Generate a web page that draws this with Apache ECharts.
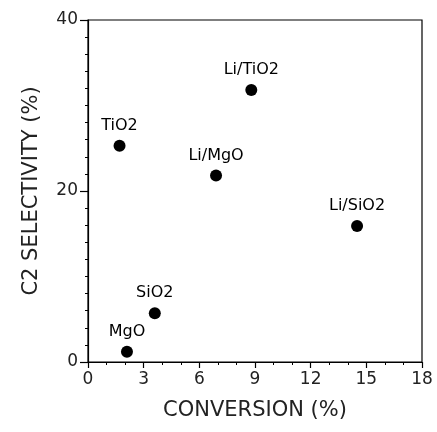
<!DOCTYPE html>
<html>
<head>
<meta charset="utf-8">
<script src="https://cdn.jsdelivr.net/npm/echarts@6/dist/echarts.min.js"></script>
<style>
  html, body { margin: 0; padding: 0; background: #fff; }
  #chart { width: 437px; height: 432px; }
</style>
</head>
<body>
<div id="chart"></div>
<script>
// catalysts and their measured values
const catalysts = ["MgO", "SiO2", "TiO2", "Li/MgO", "Li/TiO2", "Li/SiO2"];
const conversion = [2.1, 3.6, 1.7, 6.9, 8.8, 14.5];
const selectivity = [1.2, 5.7, 25.3, 21.8, 31.8, 15.9];

const xTicks = [0, 3, 6, 9, 12, 15, 18];
const yTicks = [0, 20, 40];

const FONT = "DejaVu Sans";

const chart = echarts.init(document.getElementById("chart"), null, { renderer: "canvas" });

const points = catalysts.map((name, i) => ({
    name: name,
    value: [conversion[i], selectivity[i]]
}));

const option = {
    backgroundColor: "#fff",
    animation: false,
    grid: {
        left: 88, right: 15, top: 20, bottom: 70,
        show: true, borderColor: "#000", borderWidth: 1.2, backgroundColor: "transparent"
    },
    xAxis: {
        type: "value",
        min: xTicks[0],
        max: xTicks[xTicks.length - 1],
        interval: 3,
        name: "CONVERSION (%)",
        nameLocation: "middle",
        nameGap: 38,
        nameTextStyle: { fontFamily: FONT, fontSize: 21, color: "#222" },
        axisLine: { lineStyle: { color: "#000", width: 1.2 } },
        axisTick: { show: true, inside: false, length: 6, lineStyle: { color: "#000", width: 1.2 } },
        minorTick: { show: true, splitNumber: 3, length: 3, lineStyle: { color: "#000", width: 1 } },
        splitLine: { show: false },
        axisLabel: {
            fontFamily: FONT, fontSize: 17, color: "#222", margin: 9,
            formatter: v => xTicks.includes(v) ? String(v) : ""
        }
    },
    yAxis: {
        type: "value",
        min: yTicks[0],
        max: yTicks[yTicks.length - 1],
        interval: 20,
        name: "C2 SELECTIVITY (%)",
        nameLocation: "middle",
        nameGap: 46,
        nameTextStyle: { fontFamily: FONT, fontSize: 21, color: "#222" },
        axisLine: { lineStyle: { color: "#000", width: 1.2 } },
        axisTick: { show: true, inside: false, length: 8, lineStyle: { color: "#000", width: 1.2 } },
        minorTick: { show: true, splitNumber: 10, length: 3, lineStyle: { color: "#000", width: 1 } },
        splitLine: { show: false },
        axisLabel: {
            fontFamily: FONT, fontSize: 17, color: "#222", margin: 10,
            formatter: v => yTicks.includes(v) ? String(v) : ""
        }
    },
    series: [{
        type: "scatter",
        symbol: "circle",
        symbolSize: 12,
        itemStyle: { color: "#000", opacity: 1 },
        label: {
            show: true,
            position: "top",
            distance: 6,
            formatter: "{b}",
            fontFamily: FONT,
            fontSize: 16,
            color: "#000"
        },
        data: points
    }]
};

chart.setOption(option);
</script>
</body>
</html>
